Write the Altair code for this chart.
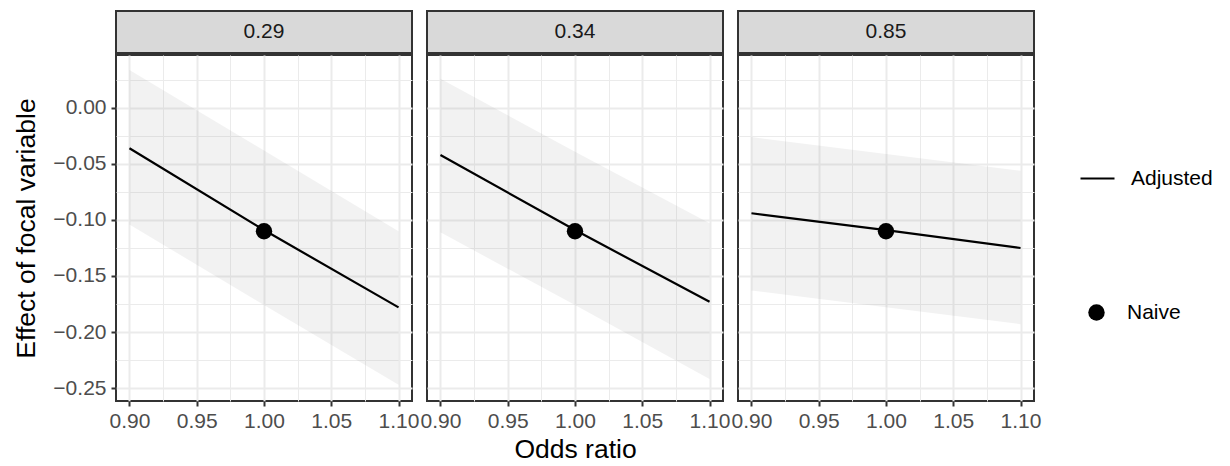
import altair as alt
import pandas as pd

# ---------------- data ----------------
panels = ["0.29", "0.34", "0.85"]
odds = [0.90, 1.00, 1.10]

est = {
    "0.29": [-0.036, -0.109, -0.178],
    "0.34": [-0.042, -0.109, -0.173],
    "0.85": [-0.094, -0.109, -0.125],
}
lo = {
    "0.29": [-0.104, -0.176, -0.247],
    "0.34": [-0.111, -0.176, -0.242],
    "0.85": [-0.163, -0.178, -0.193],
}
hi = {
    "0.29": [0.034, -0.038, -0.110],
    "0.34": [0.026, -0.039, -0.103],
    "0.85": [-0.026, -0.041, -0.056],
}
naive_odds = 1.00
naive_est = {"0.29": -0.110, "0.34": -0.110, "0.85": -0.110}

x_ticks = [0.90, 0.925, 0.95, 0.975, 1.00, 1.025, 1.05, 1.075, 1.10]
y_ticks = [-0.25, -0.225, -0.20, -0.175, -0.15, -0.125, -0.10, -0.075,
           -0.05, -0.025, 0.00, 0.025]

# ---------------- style ----------------
FONT = "Liberation Sans"
W, H, SH = 296, 346, 42
MINOR = "abs(datum.value*20 - round(datum.value*20)) > 1e-6"
LABEL = ("abs(datum.value*20 - round(datum.value*20)) < 1e-6 ? "
         "format(datum.value, '.2f') : ''")

xscale = alt.Scale(domain=[0.89, 1.11], nice=False, zero=False)
yscale = alt.Scale(domain=[-0.2616, 0.0473], nice=False, zero=False)


def grid_common():
    return dict(
        grid=True,
        gridColor="#EBEBEB",
        gridWidth={"condition": {"test": MINOR, "value": 1}, "value": 2},
        domain=False,
        labelFont=FONT,
        labelFontSize=21,
        labelColor="#4D4D4D",
        labelFlush=False,
        labelOverlap=False,
        titleFont=FONT,
        titleFontSize=26.5,
        titleFontWeight="normal",
        titleColor="black",
    )


def x_axis(title):
    kw = grid_common()
    kw.update(values=x_ticks, labelExpr=LABEL, tickColor="#333333",
              tickWidth=2, tickSize=5,
              tickOpacity={"condition": {"test": MINOR, "value": 0}, "value": 1},
              labelPadding=4, titlePadding=5)
    kw["title"] = title if title else None
    return alt.Axis(**kw)


def y_axis(first):
    kw = grid_common()
    kw.update(values=y_ticks)
    if first:
        kw.update(labelExpr=LABEL, tickColor="#333333", tickWidth=2, tickSize=5,
                  tickOpacity={"condition": {"test": MINOR, "value": 0}, "value": 1},
                  labelPadding=5, titlePadding=12,
                  title="Effect of focal variable")
    else:
        kw.update(labels=False, ticks=False, title=None)
    return alt.Axis(**kw)


line_legend = alt.Legend(
    orient="none", legendX=963, legendY=149, title=None,
    symbolType="stroke", symbolSize=1156, symbolStrokeWidth=2.2,
    symbolStrokeColor="black", labelFont=FONT, labelFontSize=21,
    labelColor="black", labelOffset=15, padding=0,
)
point_legend = alt.Legend(
    orient="none", legendX=970, legendY=291, title=None,
    symbolSize=270, symbolFillColor="black", symbolStrokeWidth=0,
    labelFont=FONT, labelFontSize=21, labelColor="black",
    labelOffset=20, padding=0,
)

strips = []
panels_ch = []
for i, p in enumerate(panels):
    df = pd.DataFrame({"odds": odds, "est": est[p], "lo": lo[p], "hi": hi[p],
                       "kind": ["Adjusted"] * len(odds)})
    pt = pd.DataFrame({"odds": [naive_odds], "naive": [naive_est[p]],
                       "kind": ["Naive"]})
    xa = x_axis("Odds ratio" if i == 1 else None)
    ya = y_axis(i == 0)

    band = alt.Chart(df).mark_area(fill="#7F7F7F", opacity=0.1).encode(
        x=alt.X("odds:Q", scale=xscale, axis=xa),
        y=alt.Y("lo:Q", scale=yscale, axis=ya),
        y2="hi:Q",
    )
    line = alt.Chart(df).mark_line(strokeWidth=2.2).encode(
        x=alt.X("odds:Q", scale=xscale, axis=xa),
        y=alt.Y("est:Q", scale=yscale, axis=ya),
        stroke=alt.Stroke("kind:N", scale=alt.Scale(domain=["Adjusted"], range=["black"]),
                          legend=line_legend),
    )
    point = alt.Chart(pt).mark_point(filled=True, size=270, opacity=1, color="black").encode(
        x=alt.X("odds:Q", scale=xscale, axis=xa),
        y=alt.Y("naive:Q", scale=yscale, axis=ya),
        shape=alt.Shape("kind:N", scale=alt.Scale(domain=["Naive"], range=["circle"]),
                        legend=point_legend),
    )
    panels_ch.append(alt.layer(band, line, point).properties(width=W, height=H))

    strips.append(alt.Chart(pd.DataFrame({"label": [p]})).mark_text(
        font=FONT, fontSize=21, color="#1A1A1A"
    ).encode(text="label:N").properties(
        width=W, height=SH,
        view=alt.ViewBackground(fill="#D9D9D9", stroke="#333333", strokeWidth=2),
    ))

strip_row = alt.hconcat(*strips, spacing=15, bounds="flush")
panel_row = alt.hconcat(*panels_ch, spacing=15, bounds="flush")

chart = alt.vconcat(strip_row, panel_row, spacing=0).resolve_scale(
    stroke="shared", shape="shared"
).properties(
    padding={"left": 4, "top": 2, "right": 0, "bottom": 0},
    background="white",
).configure_view(stroke="#333333", strokeWidth=2)

chart.save("out.html", embed_options={"renderer": "svg", "actions": False})
